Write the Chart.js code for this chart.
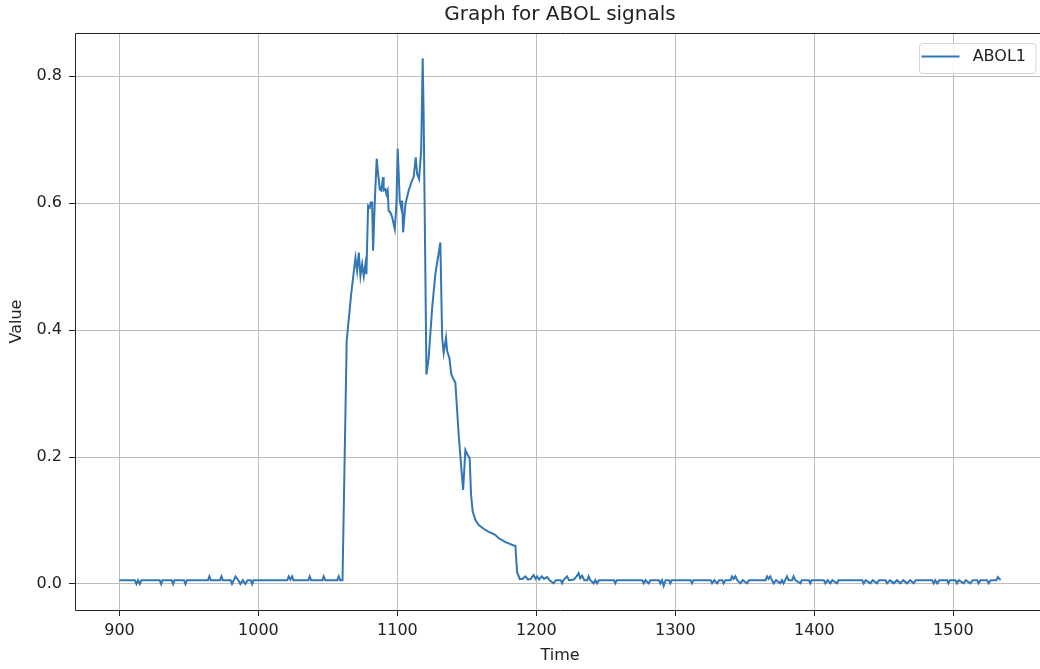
<!DOCTYPE html>
<html>
<head>
<meta charset="utf-8">
<script src="https://cdn.jsdelivr.net/npm/chart.js@4"></script>
<style>
  html, body { margin: 0; padding: 0; background: #fff; overflow: hidden; }
  #chart { display: block; }
</style>
</head>
<body>
<canvas id="chart" width="1050" height="669"></canvas>
<script>
// ABOL1 signal (time, value)
const times = [
  900, 911, 912.2, 913.4, 914.6, 915.8, 929, 930, 931, 937.6, 938.6, 939.6, 946.5, 947.5, 948.5,
  963.7, 964.7, 965.7, 972.4, 973.4, 974.4, 980, 981, 983.5, 985.5, 987, 988.8, 990.6, 992.2,
  994.5, 995.5, 996.5, 1020.8, 1021.8, 1023, 1024.2, 1025.2, 1035.9, 1036.9, 1037.9,
  1046, 1047, 1048, 1056.8, 1057.8, 1058.8, 1060.5,
  1063.5, 1066.7, 1069.8, 1071.0, 1072.2, 1073.4, 1074.6, 1075.8, 1077.0, 1077.7, 1078.9,
  1080.1, 1080.8, 1081.8, 1082.5, 1083.7, 1085.1, 1086.1, 1087.3, 1088.3, 1089.0, 1089.7,
  1090.1, 1091.4, 1092.1, 1093.0, 1093.7, 1095.0, 1096.2, 1097.3, 1098.1, 1099.3, 1100.2,
  1101.7, 1102.7, 1103.4, 1104.1, 1105.8, 1108.1, 1110.6, 1111.7, 1113.2, 1114.2, 1115.6,
  1117.1, 1118.2, 1118.9, 1120.9, 1122.5, 1125.0, 1127.3, 1130.9, 1132.2, 1133.3, 1135.0,
  1135.8, 1137.4, 1138.8, 1140.5, 1141.7, 1144.1, 1146.0, 1147.3, 1148.9, 1150.6, 1152.0,
  1153.0, 1154.2, 1156.1, 1158.5, 1162.1, 1165.7, 1168.1, 1170.5, 1172.9, 1175.3, 1177.7,
  1180.1, 1183.2, 1184.9, 1186.1, 1188.0,
  1190, 1192, 1194, 1196, 1198, 1199.5, 1200.5, 1202, 1204, 1205.5, 1207.7, 1209.5, 1212.4,
  1214, 1217.5, 1218.5, 1219.5, 1222.1, 1223.5, 1227, 1229.3, 1230.4, 1231.5, 1232.9, 1234.5,
  1236.6, 1237.6, 1238.8, 1241.2, 1242.4, 1243.7, 1245, 1255.8, 1256.8, 1257.8, 1276.2, 1277.2,
  1278.5, 1280.8, 1282, 1288.2, 1289.2, 1290.4, 1291.6, 1293, 1295.4, 1296.4, 1297.4, 1311,
  1312, 1313, 1325.4, 1326.4, 1328, 1330, 1331.5, 1333.7, 1334.7, 1336, 1339.8, 1340.8, 1342,
  1343.2, 1344.5, 1346.8, 1348.5, 1351.6, 1353, 1365, 1366, 1367.2, 1368.3, 1369.5, 1370.7,
  1372.5, 1375.5, 1376.7, 1377.9, 1379, 1380.3, 1381.5, 1384, 1385.1, 1386.3, 1389.9, 1391,
  1396.1, 1397.1, 1398.1, 1406.9, 1407.9, 1409.6, 1411.5, 1413, 1416.3, 1417.5, 1434.5, 1435.5,
  1437, 1440.3, 1442, 1445.1, 1446.5, 1451.3, 1452.3, 1454.5, 1457.1, 1459.5, 1461.9, 1464,
  1466.7, 1469, 1471.5, 1473, 1484.8, 1485.9, 1487, 1488.5, 1490, 1495.5, 1496.5, 1497.5,
  1501.6, 1502.6, 1504, 1507.4, 1509, 1512.2, 1514, 1517.2, 1518.2, 1519.5, 1524.4, 1525.4,
  1527, 1531, 1532.1, 1534
];
const values = [
  0.006, 0.006, 0.0, 0.006, 0.0, 0.006, 0.006, 0.0, 0.006, 0.006, 0.0, 0.006, 0.006, 0.0, 0.006,
  0.006, 0.012, 0.006, 0.006, 0.012, 0.006, 0.006, 0.0, 0.012, 0.006, 0.0, 0.006, 0.0, 0.006,
  0.006, 0.0, 0.006, 0.006, 0.012, 0.007, 0.012, 0.006, 0.006, 0.012, 0.006,
  0.006, 0.012, 0.006, 0.006, 0.012, 0.006, 0.006,
  0.383, 0.456, 0.514, 0.493, 0.522, 0.485, 0.504, 0.485, 0.504, 0.488, 0.596,
  0.593, 0.601, 0.601, 0.525, 0.601, 0.670, 0.646, 0.622, 0.620, 0.630, 0.641,
  0.620, 0.622, 0.614, 0.620, 0.588, 0.585, 0.578, 0.567, 0.559, 0.599, 0.686,
  0.604, 0.593, 0.604, 0.554, 0.599, 0.620, 0.636, 0.641, 0.672, 0.646, 0.638,
  0.683, 0.828, 0.736, 0.330, 0.356, 0.435, 0.488, 0.538, 0.388, 0.364, 0.388,
  0.367, 0.356, 0.330, 0.322, 0.317, 0.235, 0.182, 0.148, 0.211, 0.203, 0.198,
  0.140, 0.114, 0.101, 0.093, 0.087, 0.082, 0.080, 0.077, 0.072, 0.069, 0.066,
  0.064, 0.061, 0.060, 0.019, 0.008,
  0.008, 0.012, 0.007, 0.008, 0.014, 0.008, 0.012, 0.007, 0.012, 0.008, 0.011, 0.006, 0.001,
  0.006, 0.006, 0.001, 0.006, 0.012, 0.006, 0.007, 0.013, 0.017, 0.009, 0.013, 0.006,
  0.006, 0.012, 0.006, 0.001, 0.006, 0.001, 0.006, 0.006, 0.001, 0.006, 0.006, 0.001,
  0.006, 0.001, 0.006, 0.006, 0.001, 0.006, -0.003, 0.006, 0.006, 0.001, 0.006, 0.006,
  0.001, 0.006, 0.006, 0.001, 0.006, 0.001, 0.006, 0.006, 0.001, 0.006, 0.006, 0.012, 0.008,
  0.012, 0.006, 0.001, 0.006, 0.001, 0.006, 0.006, 0.012, 0.008, 0.012, 0.006, 0.001,
  0.006, 0.001, 0.006, 0.001, 0.006, 0.012, 0.006, 0.006, 0.012, 0.006, 0.001, 0.006,
  0.006, 0.001, 0.006, 0.006, 0.001, 0.006, 0.001, 0.006, 0.001, 0.006, 0.006, 0.001,
  0.006, 0.001, 0.006, 0.001, 0.006, 0.006, 0.001, 0.006, 0.001, 0.006, 0.001, 0.006,
  0.001, 0.006, 0.001, 0.006, 0.006, 0.001, 0.006, 0.001, 0.006, 0.006, 0.001, 0.006,
  0.006, 0.001, 0.006, 0.001, 0.006, 0.001, 0.006, 0.006, 0.001, 0.006, 0.006, 0.001,
  0.006, 0.006, 0.011, 0.006
];
const xTicks = [900, 1000, 1100, 1200, 1300, 1400, 1500];
const yTicks = [0.0, 0.2, 0.4, 0.6, 0.8];
const xLimits = [868, 1566];
const yLimits = [-0.041, 0.868];

const lineColor = '#3277b5';
const textColor = '#222';
const font = 'DejaVu Sans';

const points = times.map((t, i) => ({ x: t, y: values[i] }));

// top and right spines
const frame = {
  id: 'frame',
  afterDatasetsDraw(chart) {
    const a = chart.chartArea;
    const ctx = chart.ctx;
    ctx.save();
    ctx.strokeStyle = textColor;
    ctx.lineWidth = 1;
    ctx.beginPath();
    ctx.rect(Math.round(a.left) + 0.5, Math.round(a.top) + 0.5,
      Math.round(a.right - a.left), Math.round(a.bottom - a.top));
    ctx.stroke();
    ctx.restore();
  }
};

// move the legend to the upper right of the plot and give it a rounded box
const legendBox = {
  id: 'legendBox',
  afterLayout(chart) {
    const lg = chart.legend;
    const a = chart.chartArea;
    if (!lg || !lg.legendHitBoxes.length) return;
    const hb = lg.legendHitBoxes[0];
    const pad = lg.options.labels.padding;
    lg.left = a.right - 19 - hb.width - pad;
    lg.right = lg.left + lg.width;
    lg.top = a.top + 23.5 - pad - hb.height / 2;
    lg.bottom = lg.top + lg.height;
    if (lg._boxed) return;
    const orig = lg.draw;
    lg.draw = function () {
      const h = this.legendHitBoxes[0];
      const ctx = this.ctx;
      const cy = h.top + h.height / 2;
      ctx.save();
      ctx.fillStyle = 'rgba(255,255,255,0.85)';
      ctx.strokeStyle = '#d5d5d5';
      ctx.lineWidth = 1;
      ctx.beginPath();
      ctx.roundRect(Math.round(h.left - 3) + 0.5, Math.round(cy - 14) + 0.5, h.width + 12, 30, 3);
      ctx.fill();
      ctx.stroke();
      ctx.restore();
      orig.apply(this, arguments);
    };
    lg._boxed = true;
  }
};

new Chart(document.getElementById('chart'), {
  type: 'line',
  data: {
    datasets: [{
      label: 'ABOL1',
      data: points,
      borderColor: lineColor,
      backgroundColor: lineColor,
      borderWidth: 2,
      pointRadius: 0,
      tension: 0
    }]
  },
  options: {
    responsive: false,
    animation: false,
    devicePixelRatio: 1,
    layout: { padding: { left: 0, right: 5, top: 0, bottom: 0 } },
    scales: {
      x: {
        type: 'linear',
        min: xLimits[0],
        max: xLimits[1],
        afterBuildTicks: s => { s.ticks = xTicks.map(v => ({ value: v })); },
        afterFit: s => { s.height = 59; },
        ticks: { color: textColor, font: { family: font, size: 16 }, padding: 5, maxRotation: 0, callback: v => String(v) },
        grid: { color: '#bdbdbd', lineWidth: 1, tickLength: 6, tickColor: textColor },
        border: { display: false },
        title: { display: true, text: 'Time', color: textColor, font: { family: font, size: 16 }, padding: { top: 0, bottom: 4 } }
      },
      y: {
        min: yLimits[0],
        max: yLimits[1],
        afterBuildTicks: s => { s.ticks = yTicks.map(v => ({ value: v })); },
        afterFit: s => { s.width = 75; },
        ticks: { color: textColor, font: { family: font, size: 16 }, padding: 7, callback: v => v.toFixed(1) },
        grid: { color: '#bdbdbd', lineWidth: 1, tickLength: 6, tickColor: textColor },
        border: { display: false },
        title: { display: true, text: 'Value', color: textColor, font: { family: font, size: 16 }, padding: { top: 7, bottom: 0 } }
      }
    },
    plugins: {
      title: {
        display: true,
        text: 'Graph for ABOL signals',
        color: textColor,
        fullSize: false,
        font: { family: font, size: 20, weight: 'normal' },
        padding: { top: 3, bottom: 6 }
      },
      legend: {
        position: 'chartArea',
        align: 'start',
        labels: {
          color: textColor,
          font: { family: font, size: 16 },
          boxWidth: 38,
          boxHeight: 2,
          padding: 10,
          generateLabels: chart => chart.data.datasets.map((d, i) => ({
            text: ' ' + d.label,
            fillStyle: d.borderColor,
            strokeStyle: d.borderColor,
            lineWidth: 0,
            hidden: false,
            datasetIndex: i,
            fontColor: textColor
          }))
        }
      },
      tooltip: { enabled: false }
    }
  },
  plugins: [frame, legendBox]
});
</script>
</body>
</html>
